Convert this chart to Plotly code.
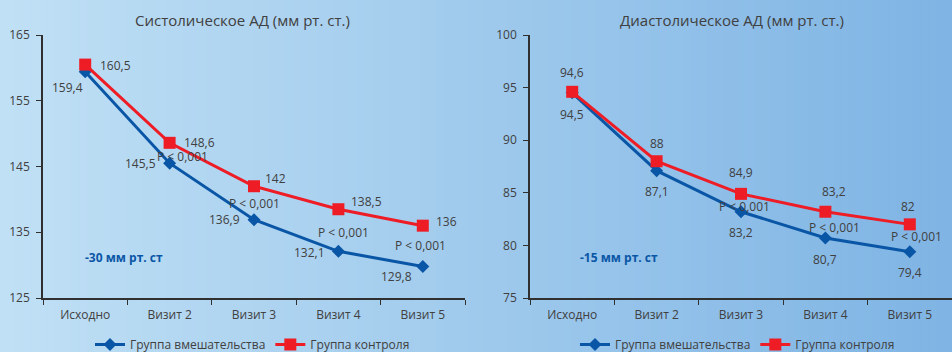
import plotly.graph_objects as go

categories = ["Исходно", "Визит 2", "Визит 3", "Визит 4", "Визит 5"]
sys_intervention = [159.4, 145.5, 136.9, 132.1, 129.8]
sys_control = [160.5, 148.6, 142.0, 138.5, 136.0]
dia_intervention = [94.5, 87.1, 83.2, 80.7, 79.4]
dia_control = [94.6, 88.0, 84.9, 83.2, 82.0]
sys_int_labels = ["159,4", "145,5", "136,9", "132,1", "129,8"]
sys_ctl_labels = ["160,5", "148,6", "142", "138,5", "136"]
dia_int_labels = ["94,5", "87,1", "83,2", "80,7", "79,4"]
dia_ctl_labels = ["94,6", "88", "84,9", "83,2", "82"]
p_label = "P < 0,001"
series_names = ["Группа вмешательства", "Группа контроля"]
titles = ["Систолическое АД (мм рт. ст.)", "Диастолическое АД (мм рт. ст.)"]
notes = ["-30 мм рт. ст", "-15 мм рт. ст"]

W, H = 952, 352
BLUE = "#0a56a6"
RED = "#ee1c25"
TXT = "#404040"
FONT = "Open Sans"

fig = go.Figure()

# background gradient (left light -> right darker)
c0 = (192, 224, 245)
c1 = (127, 180, 228)
n = 120
for i in range(n):
    t = i / (n - 1)
    col = tuple(round(c0[k] + (c1[k] - c0[k]) * t) for k in range(3))
    fig.add_shape(type="rect", xref="paper", yref="paper",
                  x0=i / n, x1=(i + 1) / n + 0.002, y0=0, y1=1,
                  fillcolor="rgb(%d,%d,%d)" % col, line_width=0, layer="below")

def add_pair(xa, ya, ints, ctls, legend, show):
    fig.add_trace(go.Scatter(x=categories, y=ints, mode="lines+markers", name=series_names[0],
                             line=dict(color=BLUE, width=3),
                             marker=dict(symbol="diamond", size=10, color=BLUE),
                             xaxis=xa, yaxis=ya, legend=legend, showlegend=show))
    fig.add_trace(go.Scatter(x=categories, y=ctls, mode="lines+markers", name=series_names[1],
                             line=dict(color=RED, width=3),
                             marker=dict(symbol="square", size=12, color=RED),
                             xaxis=xa, yaxis=ya, legend=legend, showlegend=show))

add_pair("x", "y", sys_intervention, sys_control, "legend", True)
add_pair("x2", "y2", dia_intervention, dia_control, "legend2", True)

def lab(xref, yref, x, y, text, dx, dy):
    fig.add_annotation(x=x, y=y, xref=xref, yref=yref, text=text, showarrow=False,
                       xanchor="center", yanchor="middle",
                       xshift=dx, yshift=dy, font=dict(family=FONT, size=12, color=TXT))

# systolic labels
s_int_shift = [(-18, -16), (-29, 0), (-30, 0), (-29, -1), (-26, -10)]
s_ctl_shift = [(30, -1), (30, 0), (21, 8), (28, 8), (24, 4)]
for i, c in enumerate(categories):
    lab("x", "y", c, sys_intervention[i], sys_int_labels[i], *s_int_shift[i])
    lab("x", "y", c, sys_control[i], sys_ctl_labels[i], *s_ctl_shift[i])
s_p_shift = {1: (13, 7), 2: (0, 16), 3: (5, 19), 4: (-2, 21)}
for i, sh in s_p_shift.items():
    lab("x", "y", categories[i], sys_intervention[i], p_label, *sh)

# diastolic labels
d_int_shift = [(0, -22), (0, -21), (0, -21), (0, -21), (0, -21)]
d_ctl_shift = [(0, 19), (0, 18), (0, 21), (9, 20), (-2, 18)]
for i, c in enumerate(categories):
    lab("x2", "y2", c, dia_intervention[i], dia_int_labels[i], *d_int_shift[i])
    lab("x2", "y2", c, dia_control[i], dia_ctl_labels[i], *d_ctl_shift[i])
d_p_shift = {2: (3, 5), 3: (9, 11), 4: (7, 15)}
for i, sh in d_p_shift.items():
    lab("x2", "y2", categories[i], dia_intervention[i], p_label, *sh)

def paper_text(px, py, text, size, color):
    fig.add_annotation(x=px / W, y=1 - py / H, xref="paper", yref="paper", text=text,
                       xanchor="center", yanchor="middle", showarrow=False,
                       font=dict(family=FONT, size=size, color=color))

# titles
paper_text(242, 20, titles[0], 15, TXT)
paper_text(732, 20, titles[1], 15, TXT)
# notes
paper_text(124, 257, "<b>%s</b>" % notes[0], 12, BLUE)
paper_text(619, 257, "<b>%s</b>" % notes[1], 12, BLUE)

ydom = [1 - 298 / H, 1 - 35 / H]
xcommon = dict(showgrid=False, showline=True, linecolor="#303030", linewidth=1.5,
               ticks="outside", ticklen=5, tickcolor="#303030", tickson="boundaries",
               tickfont=dict(family=FONT, size=12, color=TXT), range=[-0.5, 4.5],
               zeroline=False, fixedrange=True, ticklabelstandoff=5)
ycommon = dict(showgrid=False, showline=True, linecolor="#303030", linewidth=1.5,
               ticks="outside", ticklen=5, tickcolor="#303030",
               tickfont=dict(family=FONT, size=12, color=TXT), zeroline=False, ticklabelstandoff=4)

leg_y = -7 / H
fig.update_layout(
    width=W, height=H, margin=dict(l=0, r=0, t=0, b=0, autoexpand=False),
    paper_bgcolor="rgb(192,224,245)", plot_bgcolor="rgba(0,0,0,0)",
    xaxis=dict(domain=[43 / W, 465 / W], anchor="y", **xcommon),
    yaxis=dict(domain=ydom, anchor="x", range=[125, 165], tick0=125, dtick=10, **ycommon),
    xaxis2=dict(domain=[530 / W, 1.0], anchor="y2", **xcommon),
    yaxis2=dict(domain=ydom, anchor="x2", range=[75, 100], tick0=75, dtick=5, **ycommon),
    legend=dict(orientation="h", x=90 / W, y=leg_y, xanchor="left", yanchor="bottom",
                bgcolor="rgba(0,0,0,0)", font=dict(family=FONT, size=12, color=TXT)),
    legend2=dict(orientation="h", x=575 / W, y=leg_y, xanchor="left", yanchor="bottom",
                 bgcolor="rgba(0,0,0,0)", font=dict(family=FONT, size=12, color=TXT)),
    font=dict(family=FONT, color=TXT),
)

fig.write_html("out.html", config={"displayModeBar": False},
               post_script="document.body.style.margin='0';document.body.style.overflow='hidden';")
